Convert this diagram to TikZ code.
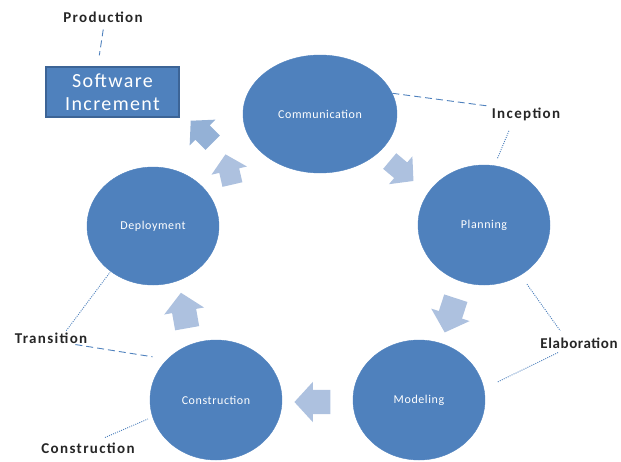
\documentclass[tikz,border=0pt]{standalone}
\usepackage{fontspec}
\setmainfont{Carlito}
\usetikzlibrary{shapes.geometric,shapes.arrows}
\definecolor{cycleblue}{HTML}{4F81BD}
\definecolor{cycleedge}{HTML}{3C6496}
\definecolor{flowblue}{HTML}{ADC1DF}
\definecolor{flowdark}{HTML}{94B1D6}
\definecolor{linkblue}{HTML}{4F81BD}

\begin{document}
\begin{tikzpicture}[x=1pt,y=-1pt,
    activity/.style={ellipse,fill=cycleblue,draw=cycleblue,inner sep=0pt,
      minimum width=132pt,minimum height=120pt,text=white,
      font=\fontsize{12}{14}\selectfont\addfontfeature{LetterSpace=5}},
    milestone/.style={inner sep=1pt,text=black!85,
      font=\bfseries\fontsize{15}{17}\selectfont\addfontfeature{LetterSpace=9}},
    flow/.style={single arrow,fill=flowblue,draw=none,inner xsep=0pt,
      inner ysep=12pt,minimum height=36pt,single arrow head extend=8pt,
      single arrow tip angle=95},
    dashlink/.style={draw=linkblue,line width=0.9pt,dash pattern=on 7pt off 4pt},
    dotlink/.style={draw=linkblue,line width=0.9pt,dash pattern=on 1pt off 1.2pt}]
  \useasboundingbox (0,0) rectangle (621,461);

  % the cycle
  \node[activity,minimum width=154pt,minimum height=118pt] (comm) at (320,114) {Communication};
  \node[activity] (plan) at (484,225) {Planning};
  \node[activity] (model) at (419,400) {Modeling};
  \node[activity] (cons) at (216,400) {Construction};
  \node[activity,minimum height=118pt] (dep) at (153,226) {Deployment};

  \node[draw=cycleedge,line width=1.4pt,fill=cycleblue,text=white,align=center,
    minimum width=133pt,minimum height=50pt,inner sep=1pt,
    font=\fontsize{20}{23}\selectfont\addfontfeature{LetterSpace=7}] (incr) at (112.5,92) {Software\\Increment};

  % block arrows between the activities
  \node[flow,fill=flowdark,minimum height=31pt,inner ysep=10pt,rotate=135] (a1) at (205,135) {};
  \node[flow,minimum height=31pt,inner ysep=10pt,rotate=103] (a2) at (230,174) {};
  \node[flow,minimum height=31pt,inner ysep=10pt,rotate=-40] (a3) at (398,168) {};
  \node[flow,rotate=-108] (a4) at (452,310) {};
  \node[flow,rotate=180] (a5) at (318,402) {};
  \node[flow,rotate=100] (a6) at (185,316) {};

  % phases
  \node[milestone] (prod) at (103,17) {Production};
  \node[milestone] (inc) at (526,114) {Inception};
  \node[milestone,font=\bfseries\fontsize{15}{17}\selectfont\addfontfeature{LetterSpace=4}] (elab) at (579,343) {Elaboration};
  \node[milestone] (trans) at (51,338) {Transition};
  \node[milestone] (conlbl) at (88,448) {Construction};

  \draw[dashlink,shorten <=6pt,shorten >=11pt] (prod.-80) -- (incr.120);
  \draw[dashlink,shorten >=2pt] (comm.16) -- (inc.north west);
  \draw[dotlink,shorten <=10pt,shorten >=8pt] (inc.-150) -- (plan.80);
  \draw[dotlink,shorten <=11pt,shorten >=7pt] (plan.-54) -- (elab.156);
  \draw[dotlink,shorten <=7pt,shorten >=15pt] (elab.-156) -- (model.10);
  \draw[dotlink,shorten <=1pt,shorten >=1pt] (trans.24) -- (dep.-133);
  \draw[dashlink,shorten >=15pt] (trans.-15) -- (cons.140);
  \draw[dotlink,shorten <=10pt,shorten >=5pt] (conlbl.40) -- (cons.-165);
\end{tikzpicture}
\end{document}
